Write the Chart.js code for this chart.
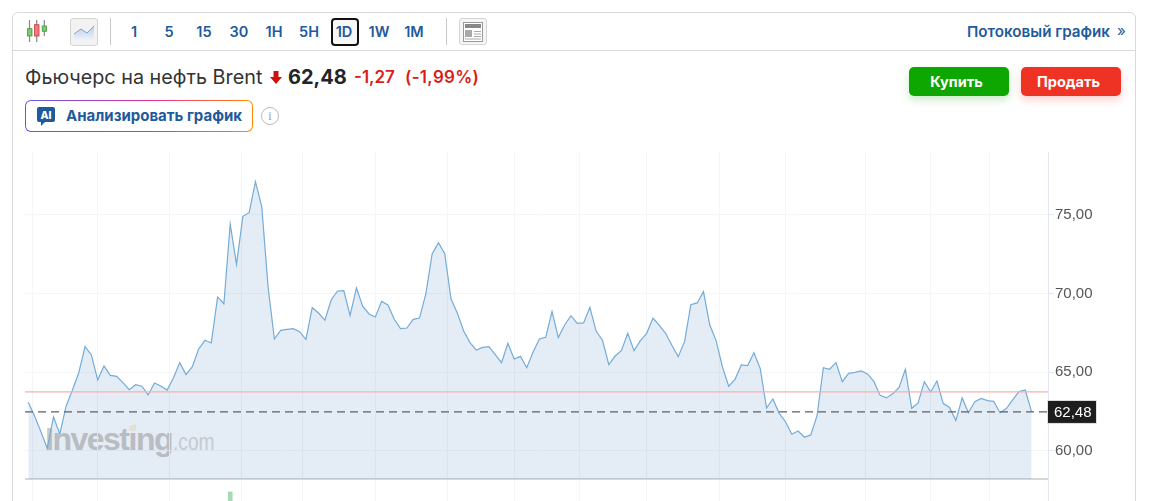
<!DOCTYPE html>
<html lang="ru">
<head>
<meta charset="utf-8">
<title>Фьючерс на нефть Brent</title>
<script src="https://cdn.jsdelivr.net/npm/chart.js@4/dist/chart.umd.min.js"></script>
<style>
html, body { margin: 0; padding: 0; width: 1151px; height: 501px; overflow: hidden; background: #fff; font-family: Inter, "Noto Sans", sans-serif; color: #1a1a1a; }
.abs { position: absolute; white-space: nowrap; }
#card { left: 12px; top: 12px; width: 1122px; height: 520px; border: 1px solid #d9d9d9; border-radius: 6px; box-sizing: content-box; }
#toolbarLine { left: 13px; top: 50px; width: 1122px; height: 1px; background: #d9d9d9; }
.sep { width: 1px; height: 27px; top: 18px; background: #c9c9c9; }
.tf { top: 22px; width: 30px; text-align: center; font-size: 14.5px; font-weight: 600; color: #1f5a9c; line-height: 20px; }
#tfActive { left: 331px; top: 18px; width: 24px; height: 24px; border: 2px solid #111; border-radius: 4px; background: #f7f7f7; }
#areaBtn { left: 70px; top: 18px; width: 26px; height: 26px; border: 1px solid #d5d5d5; border-radius: 3px; background: #f2f2f2; }
#newsBtn { left: 459px; top: 18px; width: 26px; height: 25px; border: 1px solid #d5d5d5; border-radius: 3px; background: #f5f5f5; }
#stream { left: 967px; top: 22px; font-size: 15.2px; font-weight: 600; color: #1f5a9c; line-height: 20px; }
#streamArrow { left: 1117px; top: 21px; font-size: 15px; color: #1f5a9c; line-height: 20px; }
#title { left: 25px; top: 66px; font-size: 19.8px; line-height: 22px; color: #333; }
#price { left: 288px; top: 65px; font-size: 20px; font-weight: 700; line-height: 24px; color: #232526; }
#change { left: 354px; top: 66px; font-size: 17px; font-weight: 600; line-height: 22px; color: #d91e18; }
#pct { left: 405px; top: 66px; font-size: 17px; font-weight: 600; line-height: 22px; color: #d91e18; letter-spacing: 0.3px; }
.trade { top: 67px; height: 29px; width: 100px; border-radius: 5px; color: #fff; font-size: 14.5px; font-weight: 700; line-height: 29px; text-align: center; text-indent: -5px; }
#buy { left: 909px; background: #0ea600; box-shadow: 0 4px 8px rgba(14,166,0,0.22); }
#sell { left: 1021px; background: #ee3324; box-shadow: 0 4px 8px rgba(238,51,36,0.22); }
#aiBtn { left: 25px; top: 100px; width: 228px; height: 32px; border-radius: 6px; padding: 1px; box-sizing: border-box; background: linear-gradient(90deg, #5b5be6, #e0309a 55%, #ff8a00); }
#aiInner { width: 100%; height: 100%; border-radius: 5px; background: #fff; }
#aiText { left: 66px; top: 106px; font-size: 15px; font-weight: 700; line-height: 20px; color: #1f5a9c; }
#info { left: 261px; top: 107px; width: 16px; height: 16px; border: 1.5px solid #bbb; border-radius: 50%; font-size: 12px; line-height: 16px; text-align: center; color: #999; font-family: "Liberation Serif", serif; }
#wm { left: 45px; top: 420px; font-family: "Liberation Sans", sans-serif; font-size: 32px; line-height: 38px; font-weight: 700; color: #cec9c3; letter-spacing: -1.5px; }
#wm span { display: inline-block; font-weight: 400; font-size: 24px; color: #ddd9d5; letter-spacing: 0; transform: scaleX(0.8); transform-origin: left; margin-left: 1px; }
#chartBox { left: 0; top: 152px; }
</style>
</head>
<body>
<div class="abs" id="card"></div>
<div class="abs" id="toolbarLine"></div>

<svg class="abs" style="left:25px;top:20px" width="24" height="23" viewBox="0 0 24 23">
  <path d="M4.500 0v22M11.700 0v22M19.300 0v16" stroke="#888" stroke-width="1.200"/>
  <rect x="2.500" y="8.700" width="4.500" height="7.300" fill="#7cc873" stroke="#3f9a3a" stroke-width=".8"/>
  <rect x="9.500" y="4.700" width="4.500" height="11.300" fill="#f2787a" stroke="#c43a3c" stroke-width=".8"/>
  <rect x="17.200" y="6" width="4.300" height="5.300" fill="#7cc873" stroke="#3f9a3a" stroke-width=".8"/>
</svg>
<div class="abs" id="areaBtn">
  <svg width="26" height="26" viewBox="0 0 26 26">
    <defs><linearGradient id="areaFill" x1="0" y1="0" x2="0" y2="1"><stop offset="0" stop-color="#bcd0e8"/><stop offset="1" stop-color="#eef2f8"/></linearGradient></defs>
    <path d="M3 15l7-5 6 4 7-7v14H3z" fill="url(#areaFill)"/><path d="M3 15l7-5 6 4 7-7" fill="none" stroke="#7ba6d0" stroke-width="1"/>
  </svg>
</div>
<div class="abs sep" style="left:110px"></div>
<div class="abs" id="tfActive"></div>
<div class="abs tf" style="left:119px">1</div>
<div class="abs tf" style="left:154px">5</div>
<div class="abs tf" style="left:189px">15</div>
<div class="abs tf" style="left:224px">30</div>
<div class="abs tf" style="left:259px">1H</div>
<div class="abs tf" style="left:294px">5H</div>
<div class="abs tf" style="left:329px">1D</div>
<div class="abs tf" style="left:364px">1W</div>
<div class="abs tf" style="left:399px">1M</div>
<div class="abs sep" style="left:446px"></div>
<div class="abs" id="newsBtn">
  <svg width="26" height="25" viewBox="0 0 26 25"><rect x="3.500" y="3.500" width="19" height="19" fill="#fff" stroke="#999"/><rect x="5" y="5" width="16" height="4" fill="#888"/><rect x="5" y="11" width="7" height="7" fill="#aaa"/><path d="M14 12.500h7M14 15h7M14 17.500h7M5 20h16" stroke="#aaa"/></svg>
</div>
<div class="abs" id="stream">Потоковый график</div>
<div class="abs" id="streamArrow">»</div>

<div class="abs" id="title">Фьючерс на нефть Brent</div>
<svg class="abs" style="left:270px;top:71px" width="12" height="13" viewBox="0 0 12 13"><path d="M3.500 0h5v6H12l-6 7-6-7h3.500z" fill="#d00f0f"/></svg>
<div class="abs" id="price">62,48</div>
<div class="abs" id="change">-1,27</div>
<div class="abs" id="pct">(-1,99%)</div>
<div class="abs trade" id="buy">Купить</div>
<div class="abs trade" id="sell">Продать</div>

<div class="abs" id="aiBtn"><div id="aiInner"></div></div>
<svg class="abs" style="left:37px;top:107px" width="18" height="19" viewBox="0 0 18 19"><path d="M2 0h14a2 2 0 0 1 2 2v11a2 2 0 0 1-2 2H8l-4 4v-4H2a2 2 0 0 1-2-2V2a2 2 0 0 1 2-2z" fill="#1f5a9c"/><text x="9" y="12" text-anchor="middle" font-family="Inter" font-size="10.500" font-weight="800" fill="#fff">AI</text></svg>
<div class="abs" id="aiText">Анализировать график</div>
<div class="abs" id="info">i</div>

<div class="abs" id="wm">Investing<span>.com</span></div>
<svg class="abs" style="left:128px;top:424px" width="9" height="8" viewBox="0 0 9 8"><path d="M1 2l7-2v6H1z" fill="#fff4d4"/></svg>
<div class="abs" id="chartBox"><canvas id="brent" width="1151" height="349"></canvas></div>

<script>
// daily closes, one per session
const closePrices = [
    63.09, 62.22, 61.23, 60.17, 62.16, 61.08, 62.86, 63.87, 64.97, 66.62,
    66.10, 64.51, 65.40, 64.80, 64.74, 64.34, 63.89, 64.21, 64.11, 63.56,
    64.32, 64.13, 63.87, 64.63, 65.61, 64.85, 65.35, 66.48, 67.03, 66.86,
    69.78, 69.35, 74.41, 71.85, 74.90, 75.13, 77.10, 75.51, 70.43, 67.11,
    67.66, 67.72, 67.77, 67.58, 67.09, 69.10, 68.76, 68.30, 69.59, 70.16,
    70.18, 68.61, 70.35, 69.19, 68.70, 68.51, 69.50, 69.27, 68.36, 67.77,
    67.81, 68.36, 68.44, 69.97, 72.51, 73.23, 72.53, 69.65, 68.74, 67.62,
    66.88, 66.41, 66.58, 66.62, 66.12, 65.61, 66.84, 65.84, 66.01, 65.29,
    66.29, 67.11, 67.22, 68.85, 67.20, 68.00, 68.59, 68.11, 68.13, 69.12,
    67.60, 67.03, 65.48, 66.03, 66.39, 67.47, 66.37, 67.01, 67.47, 68.44,
    67.98, 67.47, 66.71, 65.99, 66.94, 69.29, 69.40, 70.12, 68.00, 67.01,
    65.35, 64.11, 64.55, 65.46, 65.42, 66.24, 65.23, 62.73, 63.30, 62.39,
    61.86, 61.06, 61.27, 60.87, 61.02, 62.24, 65.29, 65.19, 65.61, 64.40,
    64.93, 64.99, 65.08, 64.89, 64.42, 63.53, 63.37, 63.64, 64.04, 65.19,
    62.71, 63.03, 64.40, 63.75, 64.44, 63.01, 62.77, 61.93, 63.37, 62.43,
    63.13, 63.34, 63.20, 63.15, 62.43, 62.69, 63.24, 63.77, 63.87, 62.48
];
const priceTicks = [60, 65, 70, 75];
const monthTicks = [0.6, 11, 22.4, 33.8, 43.5, 55, 66.5, 77, 87.4, 98, 109.5, 120, 132.6, 143, 152.4];
const lastPrice = 62.48;
const alertPrice = 63.75;
const panelFloor = 58.22;
const volumeIndex = [32];
const volumeValues = [2.6];

const xMin = -0.52, xMax = 161.6;
const priceMin = 56.825, priceMax = 78.984;

const pricePoints = closePrices.map((v, i) => ({ x: i, y: v }));
const flat = v => [{ x: xMin, y: v }, { x: xMax, y: v }];

// black box with the last price on the axis
const lastPriceBox = {
    id: 'lastPriceBox',
    afterDraw(chart) {
        const ctx = chart.ctx;
        const y = chart.scales.y.getPixelForValue(lastPrice);
        const left = chart.chartArea.right - 1;
        ctx.save();
        ctx.fillStyle = '#1e1e1e';
        ctx.strokeStyle = '#e3e3e3';
        ctx.fillRect(left, y - 11.5, 50, 23);
        ctx.strokeRect(left + 0.5, y - 11.5, 49, 23);
        ctx.fillStyle = '#fff';
        ctx.font = '15px "Liberation Sans"';
        ctx.textBaseline = 'middle';
        ctx.fillText(lastPrice.toFixed(2).replace('.', ','), left + 7, y + 1);
        ctx.restore();
    }
};

new Chart(document.getElementById('brent').getContext('2d'), {
    data: {
        datasets: [
            {
                type: 'line',
                data: flat(lastPrice),
                borderColor: '#5c6066',
                borderWidth: 1.3,
                borderDash: [8, 5],
                pointRadius: 0,
                order: 1
            },
            {
                type: 'line',
                data: flat(alertPrice),
                borderColor: '#f7b0ae',
                borderWidth: 1.3,
                pointRadius: 0,
                order: 2
            },
            {
                type: 'line',
                data: pricePoints,
                borderColor: '#74acd8',
                borderWidth: 1.2,
                backgroundColor: 'rgba(30, 100, 170, 0.12)',
                fill: { value: panelFloor },
                tension: 0,
                pointRadius: 0,
                order: 3
            },
            {
                type: 'line',
                data: flat(panelFloor),
                borderColor: '#d4d7db',
                borderWidth: 2,
                pointRadius: 0,
                order: 4
            },
            {
                type: 'bar',
                yAxisID: 'vol',
                data: volumeIndex.map((x, i) => ({ x: x, y: volumeValues[i] })),
                backgroundColor: '#a6dbb6',
                barThickness: 4,
                order: 5
            }
        ]
    },
    options: {
        responsive: false,
        animation: false,
        events: [],
        layout: { padding: { left: 25, right: 0, top: 0, bottom: 0 } },
        plugins: { legend: { display: false }, tooltip: { enabled: false } },
        scales: {
            x: {
                type: 'linear',
                offset: false,
                min: xMin,
                max: xMax,
                afterBuildTicks: s => { s.ticks = monthTicks.map(v => ({ value: v })); },
                afterFit: s => { s.height = 0; s.paddingLeft = 0; s.paddingRight = 0; },
                ticks: { display: false, autoSkip: false },
                border: { display: false },
                grid: { color: '#f4f5f8', drawTicks: false, offset: false }
            },
            y: {
                position: 'right',
                min: priceMin,
                max: priceMax,
                afterBuildTicks: s => { s.ticks = priceTicks.map(v => ({ value: v })); },
                afterFit: s => { s.width = 103; s.paddingTop = 0; s.paddingBottom = 0; },
                ticks: {
                    padding: 1,
                    color: '#555',
                    font: { family: '"Liberation Sans"', size: 15 },
                    callback: v => v.toFixed(2).replace('.', ',')
                },
                border: { color: '#e3e7ef', width: 1 },
                grid: { color: '#f5f6f8', tickColor: '#e3e7ef', tickLength: 6 }
            },
            vol: {
                display: false,
                position: 'left',
                min: 0,
                max: 100
            }
        }
    },
    plugins: [lastPriceBox]
});
</script>
</body>
</html>
